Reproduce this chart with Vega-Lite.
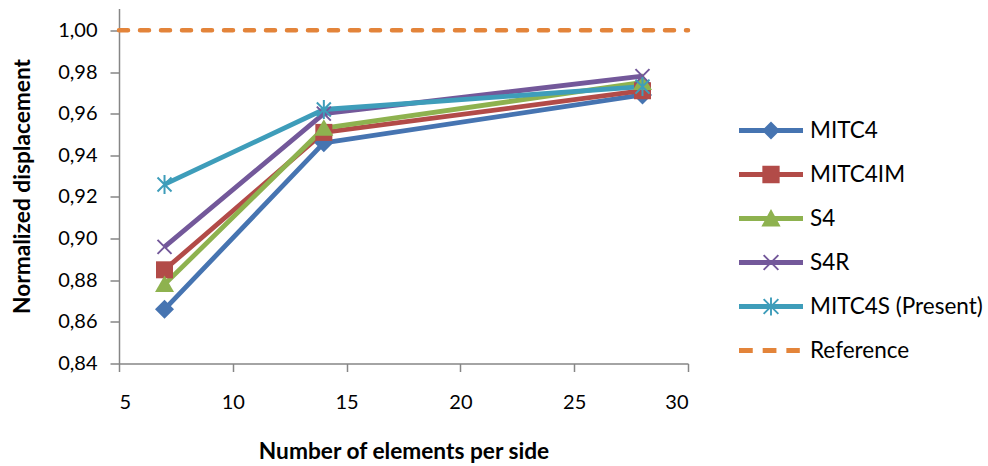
{
  "$schema": "https://vega.github.io/schema/vega-lite/v6.json",
  "autosize": {"type": "none"},
  "padding": {"left": 119, "top": 8.5, "right": 300, "bottom": 102.5},
  "width": 569,
  "height": 355,
  "background": "white",
  "config": {
    "view": {"stroke": null},
    "font": "Lato",
    "axis": {"grid": false, "domainColor": "#868686", "domainWidth": 1.5, "tickColor": "#868686", "tickWidth": 1.5, "labelFont": "Lato", "labelFontSize": 20, "labelColor": "#000000", "titleFont": "Lato", "titleFontSize": 22.7, "titleFontWeight": "bold", "titleColor": "#000000"}
  },
  "data": {"values": [
    {"n": 7, "v": 0.866, "series": "MITC4"},
    {"n": 14, "v": 0.946, "series": "MITC4"},
    {"n": 28, "v": 0.969, "series": "MITC4"},
    {"n": 7, "v": 0.885, "series": "MITC4IM"},
    {"n": 14, "v": 0.951, "series": "MITC4IM"},
    {"n": 28, "v": 0.971, "series": "MITC4IM"},
    {"n": 7, "v": 0.878, "series": "S4"},
    {"n": 14, "v": 0.953, "series": "S4"},
    {"n": 28, "v": 0.975, "series": "S4"},
    {"n": 7, "v": 0.896, "series": "S4R"},
    {"n": 14, "v": 0.960, "series": "S4R"},
    {"n": 28, "v": 0.978, "series": "S4R"},
    {"n": 7, "v": 0.926, "series": "MITC4S (Present)"},
    {"n": 14, "v": 0.962, "series": "MITC4S (Present)"},
    {"n": 28, "v": 0.973, "series": "MITC4S (Present)"},
    {"n": 5, "v": 1.0, "series": "Reference"},
    {"n": 30, "v": 1.0, "series": "Reference"}
  ]},
  "encoding": {
    "x": {"field": "n", "type": "quantitative", "scale": {"domain": [5, 30], "nice": false},
      "axis": {"values": [5, 10, 15, 20, 25, 30], "tickSize": 8, "labelPadding": 21, "title": "Number of elements per side", "titlePadding": 28}},
    "y": {"field": "v", "type": "quantitative", "scale": {"domain": [0.84, 1.0105], "nice": false, "zero": false},
      "axis": {"values": [0.84, 0.86, 0.88, 0.9, 0.92, 0.94, 0.96, 0.98, 1.0], "labelExpr": "replace(format(datum.value, '.2f'), '.', ',')", "tickSize": 9, "labelPadding": 13, "title": "Normalized displacement", "titlePadding": 23}},
    "color": {"field": "series", "type": "nominal",
      "scale": {"domain": ["MITC4", "MITC4IM", "S4", "S4R", "MITC4S (Present)", "Reference"], "range": ["#4674B1", "#B24B48", "#8EB24F", "#73589A", "#3E9DBA", "#E3843A"]},
      "legend": {
        "orient": "none", "legendX": 620, "legendY": 90, "title": null,
        "labelFont": "Lato", "labelFontSize": 22.5, "labelColor": "#000000", "labelOffset": 7,
        "symbolSize": 4096, "rowPadding": 0, "labelLimit": 300,
        "encode": {"symbols": {"update": {
          "shape": {"signal": "datum.value === 'MITC4' ? 'M-1,-0.08H1V0.08H-1ZM0,-0.28L0.28,0L0,0.28L-0.28,0Z' : datum.value === 'MITC4IM' ? 'M-1,-0.08H1V0.08H-1ZM-0.27,-0.27H0.27V0.27H-0.27Z' : datum.value === 'S4' ? 'M-1,-0.08H1V0.08H-1ZM0,-0.3L0.3,0.25H-0.3Z' : datum.value === 'S4R' ? 'M-1,-0.08H1V0.08H-1ZM-0.209,-0.251L0.251,0.209L0.209,0.251L-0.251,-0.209ZM0.251,-0.209L-0.209,0.251L-0.251,0.209L0.209,-0.251Z' : datum.value === 'MITC4S (Present)' ? 'M-1,-0.08H1V0.08H-1ZM-0.209,-0.251L0.251,0.209L0.209,0.251L-0.251,-0.209ZM0.251,-0.209L-0.209,0.251L-0.251,0.209L0.209,-0.251ZM-0.03,-0.28H0.03V0.28H-0.03Z' : 'M-1,-0.08H-0.57V0.08H-1ZM-0.26,-0.08H0.17V0.08H-0.26ZM0.48,-0.08H0.9V0.08H0.48Z'"},
          "fill": {"scale": "color", "field": "value"},
          "stroke": {"value": "transparent"},
          "strokeWidth": {"value": 0},
          "opacity": {"value": 1},
          "fillOpacity": {"value": 1}
        }}}
      }
    }
  },
  "layer": [
    {"transform": [{"filter": "datum.series !== 'Reference'"}],
      "mark": {"type": "line", "strokeWidth": 4.8, "strokeJoin": "round"}},
    {"transform": [{"filter": "datum.series === 'Reference'"}],
      "mark": {"type": "line", "strokeWidth": 4.5, "strokeDash": [9, 12], "strokeCap": "round"}},
    {"transform": [{"filter": "datum.series !== 'Reference'"}],
      "mark": {"type": "point", "filled": true, "opacity": 1, "size": 100, "strokeWidth": 0},
      "encoding": {
        "shape": {"field": "series", "type": "nominal", "legend": null,
          "scale": {"domain": ["MITC4", "MITC4IM", "S4", "S4R", "MITC4S (Present)"],
            "range": ["M0,-0.95L0.95,0L0,0.95L-0.95,0Z", "M-0.85,-0.85H0.85V0.85H-0.85Z", "M0,-0.9L0.95,0.75H-0.95Z", "M-0.63,-0.77L0.77,0.63L0.63,0.77L-0.77,-0.63ZM0.77,-0.63L-0.63,0.77L-0.77,0.63L0.63,-0.77Z", "M-0.63,-0.77L0.77,0.63L0.63,0.77L-0.77,-0.63ZM0.77,-0.63L-0.63,0.77L-0.77,0.63L0.63,-0.77ZM-0.1,-0.95H0.1V0.95H-0.1Z"]}},
        "size": {"value": 400}
      }}
  ]
}
